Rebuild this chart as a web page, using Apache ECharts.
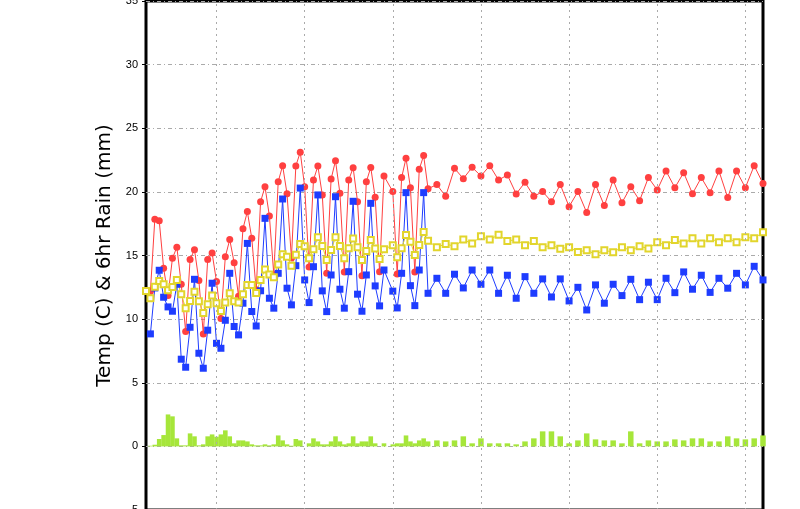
<!DOCTYPE html>
<html>
<head>
<meta charset="utf-8">
<script src="https://cdn.jsdelivr.net/npm/echarts/dist/echarts.min.js"></script>
<style>
html,body{margin:0;padding:0;background:#ffffff;}
#c{width:800px;height:509px;}
</style>
</head>
<body>
<div id="c"></div>
<script>
// forecast hours: 6-hourly to 384 h, then 12-hourly to 840 h
const hours6 = [0,6,12,18,24,30,36,42,48,54,60,66,72,78,84,90,96,102,108,114,120,126,132,138,144,150,156,162,168,174,180,186,192,198,204,210,216,222,228,234,240,246,252,258,264,270,276,282,288,294,300,306,312,318,324,330,336,342,348,354,360,366,372,378,384];
const hours12 = [396,408,420,432,444,456,468,480,492,504,516,528,540,552,564,576,588,600,612,624,636,648,660,672,684,696,708,720,732,744,756,768,780,792,804,816,828,840];
const gridHours = [96,216,336,456,576,696,816];
const yTicks = [-5,0,5,10,15,20,25,30,35];

// red (filled circles)
const red6 = [null,
  12.2,17.85,17.74,14.0,
  11.85,14.78,15.65,12.74,
  9.02,14.68,15.46,13.03,
  8.84,14.68,15.2,12.95,
  10.04,14.91,16.25,14.44,
  11.8,17.11,18.45,16.35,
  12.3,19.23,20.41,18.1,
  13.5,20.8,22.06,19.86,
  14.8,22.04,23.12,20.41,
  14.1,20.93,22.03,19.76,
  13.6,21.01,22.45,19.89,
  13.7,20.93,21.9,19.23,
  13.4,20.8,21.92,19.57,
  13.73,21.25,null,20.02,
  13.55,21.12,22.64,20.33,
  13.7,21.78,22.85,20.25];
const red12 = [20.57,19.65,21.85,21.04,21.93,21.25,22.06,20.93,21.33,19.84,20.75,19.65,20.02,19.23,20.57,18.84,20.02,18.37,20.57,18.92,20.93,19.15,20.41,19.31,21.12,20.15,21.64,20.33,21.51,19.86,21.12,19.94,21.64,19.55,21.64,20.33,22.06,20.65];

// blue (filled squares)
const blue6 = [null,
  8.84,12.45,13.84,11.72,
  10.96,10.62,12.74,6.85,
  6.22,9.36,13.13,7.32,
  6.14,9.13,12.82,8.1,
  7.71,9.91,13.6,9.42,
  8.76,11.25,15.95,10.6,
  9.46,12.23,17.92,11.64,
  10.86,13.6,19.44,12.43,
  11.12,14.2,20.3,13.08,
  11.3,14.12,19.76,12.22,
  10.59,13.47,19.62,12.35,
  10.86,13.73,19.26,11.96,
  10.62,13.47,19.1,12.61,
  11.04,13.86,null,12.2,
  10.88,13.6,19.94,12.63,
  11.06,13.86,19.94,12.03];
const blue12 = [13.21,12.03,13.53,12.45,13.86,12.74,13.86,12.03,13.45,11.64,13.34,12.03,13.16,11.74,13.16,11.43,12.5,10.72,12.69,11.25,12.74,11.85,13.13,11.53,12.9,11.53,13.21,12.08,13.71,12.35,13.45,12.1,13.21,12.43,13.6,12.69,14.15,13.08];

// yellow (open squares)
const yellow6 = [12.22,
  11.64,12.55,13.0,12.74,
  12.27,12.53,13.08,11.95,
  10.85,11.43,12.16,11.41,
  10.49,11.17,11.85,11.25,
  10.64,11.3,12.03,11.4,
  11.3,11.95,12.69,12.68,
  12.05,13.08,13.9,13.5,
  13.3,14.3,15.1,14.9,
  14.2,15.05,15.9,15.72,
  14.78,15.5,16.43,15.75,
  14.65,15.44,16.43,15.75,
  14.78,15.57,16.33,15.65,
  14.65,15.36,16.22,15.55,
  14.72,15.5,null,15.8,
  14.86,15.57,16.61,16.09,
  15.03,15.82,16.85,16.15];
const yellow12 = [15.65,15.91,15.72,16.25,15.94,16.51,16.25,16.64,16.14,16.25,15.81,16.14,15.65,15.81,15.54,15.65,15.28,15.41,15.1,15.41,15.26,15.65,15.41,15.72,15.55,16.04,15.81,16.22,15.94,16.35,15.94,16.35,16.04,16.35,16.04,16.43,16.35,16.83];

// 6hr rain (green bars)
const rain6 = [0,
  0.05,0.13,0.58,0.89,
  2.51,2.36,0.63,0.08,
  0.08,1.02,0.79,0.08,
  0.16,0.79,0.94,0.76,
  0.94,1.26,0.79,0.24,
  0.47,0.47,0.39,0.16,
  0.08,0.08,0.16,0.08,
  0.16,0.86,0.47,0.16,
  0.05,0.58,0.47,0,
  0.24,0.63,0.39,0.16,
  0.16,0.39,0.79,0.39,
  0.16,0.24,0.79,0.24,
  0.39,0.39,0.79,0.24,
  0,0.24,0,0.16,
  0.24,0.24,0.86,0.39,
  0.24,0.47,0.63,0.39];
const rain12 = [0.47,0.39,0.47,0.79,0.24,0.63,0.24,0.24,0.24,0.16,0.39,0.63,1.18,1.18,0.79,0.24,0.47,1.02,0.55,0.47,0.47,0.24,1.18,0.24,0.47,0.39,0.39,0.55,0.47,0.63,0.63,0.39,0.39,0.79,0.63,0.55,0.63,0.86];

function pairs(xs, ys) {
  const out = [];
  for (let i = 0; i < xs.length; i++) {
    if (ys[i] !== null && ys[i] !== undefined) out.push([xs[i], ys[i]]);
  }
  return out;
}

const RED = '#ff4040', BLUE = '#1e3cff', YEL = '#e2d52c', GREEN = '#a6e63a';

const chart = echarts.init(document.getElementById('c'), null, {renderer: 'canvas'});
chart.setOption({
  backgroundColor: '#ffffff',
  animation: false,
  grid: {left: 146, right: 37, top: 1, height: 509, outerBoundsMode: 'none', containLabel: false,
         show: true, borderColor: '#000', borderWidth: 3, backgroundColor: 'transparent'},
  xAxis: [
    {type: 'value', min: 0, max: 840, show: false},
    {type: 'value', min: 0, max: 840, show: false}
  ],
  yAxis: {
    type: 'value', min: yTicks[0], max: yTicks[yTicks.length - 1], interval: 5,
    name: 'Temp (C) & 6hr Rain (mm)', nameLocation: 'middle', nameGap: 27,
    nameTextStyle: {fontFamily: 'DejaVu Sans', fontSize: 20, color: '#000'},
    axisLine: {show: false},
    axisTick: {show: true, length: 4, lineStyle: {color: '#000', width: 1}},
    axisLabel: {fontFamily: 'Liberation Sans', fontSize: 11, color: '#000', margin: 8},
    splitLine: {show: true, lineStyle: {color: '#aaaaaa', width: 1, type: [4, 3, 1, 3]}}
  },
  series: [
    {
      type: 'bar', xAxisIndex: 0, data: pairs(hours6, rain6), barWidth: 4.6,
      itemStyle: {color: GREEN}, silent: true,
      markLine: {
        silent: true, symbol: ['none', 'none'], label: {show: false},
        lineStyle: {color: '#aaaaaa', width: 1, type: [2, 4]},
        data: gridHours.map(h => ({xAxis: h}))
      }
    },
    {
      type: 'bar', xAxisIndex: 1, data: pairs(hours12, rain12), barWidth: 5.5,
      itemStyle: {color: GREEN}, silent: true
    },
    {
      type: 'line', data: pairs(hours6, red6).concat(pairs(hours12, red12)),
      symbol: 'circle', symbolSize: 7, showAllSymbol: true,
      lineStyle: {color: RED, width: 1}, itemStyle: {color: RED}, silent: true
    },
    {
      type: 'line', data: pairs(hours6, blue6).concat(pairs(hours12, blue12)),
      symbol: 'rect', symbolSize: 7, showAllSymbol: true,
      lineStyle: {color: BLUE, width: 1}, itemStyle: {color: BLUE}, silent: true
    },
    {
      type: 'line', data: pairs(hours6, yellow6).concat(pairs(hours12, yellow12)),
      symbol: 'emptyRect', symbolSize: 6, showAllSymbol: true,
      lineStyle: {color: YEL, width: 1}, itemStyle: {color: YEL, borderWidth: 1.2}, silent: true
    }
  ]
});
</script>
</body>
</html>
